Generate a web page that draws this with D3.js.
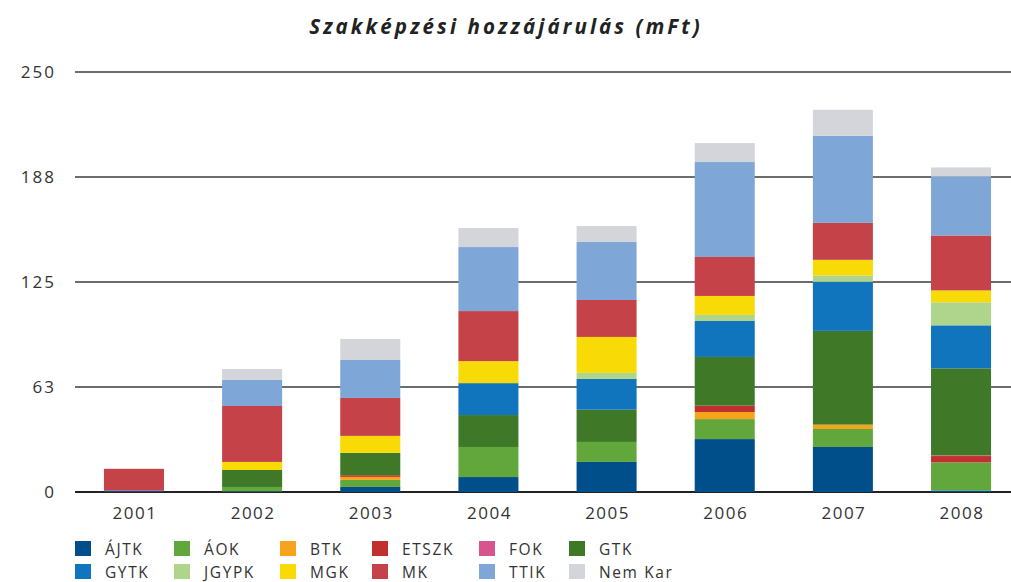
<!DOCTYPE html>
<html>
<head>
<meta charset="utf-8">
<script src="https://cdn.jsdelivr.net/npm/d3@7"></script>
<style>
  body { margin: 0; background: #fff; }
  text { font-family: "Open Sans", "Noto Sans", sans-serif; fill: #333; }
</style>
</head>
<body>
<div id="chart"></div>
<script>
// years along the x axis
var years = ["2001", "2002", "2003", "2004", "2005", "2006", "2007", "2008"];

// series, bottom to top
var keys   = ["ÁJTK", "ÁOK", "BTK", "ETSZK", "FOK", "GTK", "GYTK", "JGYPK", "MGK", "MK", "TTIK", "Nem Kar"];
var colors = ["#004f8b", "#62a73b", "#f7a41d", "#c0302f", "#d6558f", "#3f7928", "#1075bd", "#afd48c", "#f8da07", "#c54348", "#7ea7d8", "#d4d5da"];

// values (mFt), one per year
var ajtk   = [0.8, 0.4, 3.0, 8.9, 17.9, 31.5, 26.8, 0.9];
var aok    = [0, 2.6, 4.2, 17.9, 11.9, 11.9, 10.7, 16.7];
var btk    = [0, 0, 1.8, 0, 0, 4.2, 2.6, 0];
var etszk  = [0, 0, 1.0, 0, 0, 3.8, 0, 3.8];
var fok    = [0, 0, 0, 0, 0, 0, 0, 0.4];
var gtk    = [0, 10.1, 13.3, 19.0, 19.2, 29.0, 55.8, 51.8];
var gytk   = [0, 0, 0, 19.0, 18.3, 21.4, 29.2, 25.6];
var jgypk  = [0, 0, 0, 0, 3.6, 3.6, 3.8, 13.7];
var mgk    = [0, 4.8, 10.1, 13.1, 21.4, 11.3, 9.3, 7.1];
var mk     = [13.0, 33.3, 22.6, 29.8, 22.0, 23.2, 22.0, 32.7];
var ttik   = [0, 15.5, 22.6, 38.1, 34.5, 56.5, 51.8, 35.1];
var nemkar = [0, 6.5, 12.5, 11.3, 9.5, 11.3, 15.5, 5.4];

var yTicks = [0, 62.5, 125, 187.5, 250];

var series = [ajtk, aok, btk, etszk, fok, gtk, gytk, jgypk, mgk, mk, ttik, nemkar];
var table = years.map(function(y, i) {
  var row = {year: y};
  keys.forEach(function(k, j) { row[k] = series[j][i]; });
  return row;
});

var width = 1011, height = 582;
var svg = d3.select("#chart").append("svg")
  .attr("width", width)
  .attr("height", height);

var x = d3.scaleBand()
  .domain(years)
  .range([75, 1020])
  .paddingInner(0.492)
  .paddingOuter(0.245);

var y = d3.scaleLinear()
  .domain([0, 250])
  .range([492, 72]);

var color = d3.scaleOrdinal(keys, colors);

// title
svg.append("text")
  .attr("x", 506)
  .attr("y", 34)
  .attr("text-anchor", "middle")
  .style("font-size", "20.5px")
  .style("font-weight", "bold")
  .style("font-style", "italic")
  .style("letter-spacing", "3.1px")
  .style("fill", "#222")
  .text("Szakképzési hozzájárulás (mFt)");

// grid lines + y labels
var grid = svg.append("g");
grid.selectAll("line")
  .data(yTicks)
  .enter().append("line")
  .attr("x1", 75)
  .attr("x2", width)
  .attr("y1", function(d) { return y(d); })
  .attr("y2", function(d) { return y(d); })
  .attr("stroke", function(d) { return d === 0 ? "#222" : "#3c3c3c"; })
  .attr("stroke-width", function(d) { return d === 0 ? 1.8 : 1.3; });

grid.selectAll("text")
  .data(yTicks)
  .enter().append("text")
  .attr("x", 56)
  .attr("y", function(d) { return y(d); })
  .attr("dy", "0.36em")
  .attr("text-anchor", "end")
  .style("font-size", "17px")
  .style("letter-spacing", "2px")
  .text(function(d) { return Math.round(d); });

// stacked bars
var stack = d3.stack().keys(keys)(table);

svg.append("g")
  .selectAll("g")
  .data(stack)
  .enter().append("g")
  .attr("fill", function(d) { return color(d.key); })
  .selectAll("rect")
  .data(function(d) { return d; })
  .enter().append("rect")
  .attr("x", function(d) { return x(d.data.year); })
  .attr("width", x.bandwidth())
  .attr("y", function(d) { return y(d[1]); })
  .attr("height", function(d) { return y(d[0]) - y(d[1]); });

// x labels
svg.append("g")
  .selectAll("text")
  .data(years)
  .enter().append("text")
  .attr("x", function(d) { return x(d) + x.bandwidth() / 2 + 1; })
  .attr("y", 519)
  .attr("text-anchor", "middle")
  .style("font-size", "17px")
  .style("letter-spacing", "1.5px")
  .text(function(d) { return d; });

// legend, two rows of six
var legendX = [75, 174, 280, 372, 479, 569];
var legend = svg.append("g")
  .selectAll("g")
  .data(keys)
  .enter().append("g")
  .attr("transform", function(d, i) {
    return "translate(" + legendX[i % 6] + "," + (541 + Math.floor(i / 6) * 23) + ")";
  });

legend.append("rect")
  .attr("width", 16)
  .attr("height", 15)
  .attr("fill", function(d) { return color(d); });

legend.append("text")
  .attr("x", 30)
  .attr("y", 14)
  .style("font-size", "15.5px")
  .style("letter-spacing", "1.6px")
  .text(function(d) { return d; });
</script>
</body>
</html>
